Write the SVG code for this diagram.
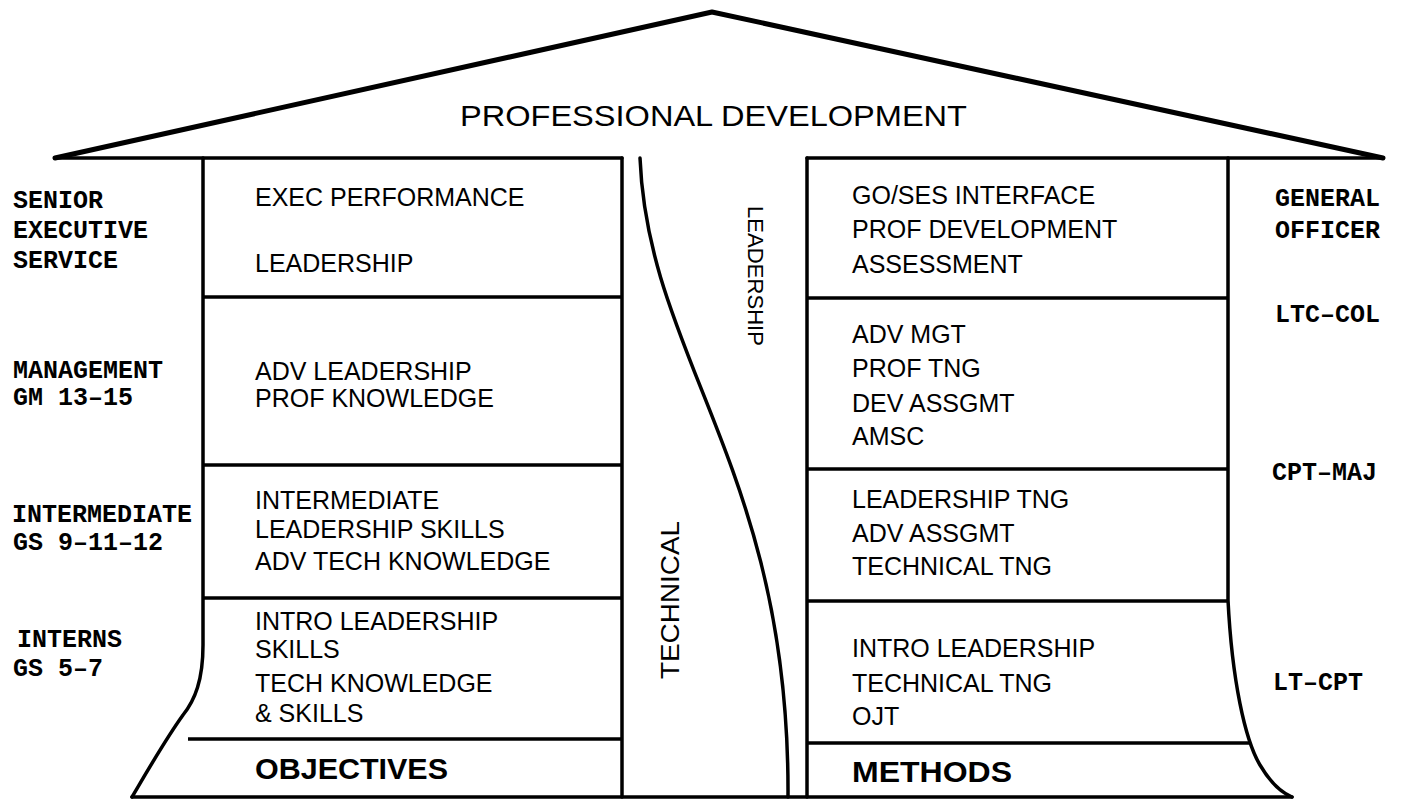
<svg xmlns="http://www.w3.org/2000/svg" width="1408" height="801" viewBox="0 0 1408 801">
<style>
.ln{stroke:#000;stroke-width:3.5;fill:none;stroke-linecap:round;stroke-linejoin:round}
.roof{stroke:#000;stroke-width:5;fill:none;stroke-linecap:round;stroke-linejoin:round}
.sep{stroke:#000;stroke-width:3.5;fill:none}
.tx{font-family:"Liberation Sans",Arial,sans-serif;font-size:25px;fill:#000}
.lb{font-family:"Liberation Mono","Courier New",monospace;font-weight:bold;font-size:25px;fill:#000}
.big{font-family:"Liberation Sans",Arial,sans-serif;font-weight:bold;font-size:29px;fill:#000}
.ttl{font-family:"Liberation Sans",Arial,sans-serif;font-size:30px;fill:#000}
</style>
<rect width="1408" height="801" fill="#fff"/>
<g id="frame">
<polyline class="roof" points="55,158 712,12 1383,158"/>
<line class="ln" x1="55" y1="158" x2="622" y2="158"/>
<line class="ln" x1="807" y1="158" x2="1383" y2="158"/>
<path class="ln" d="M203,158 L203,645 C203,680 195,700 183,715 C165,740 145,775 132,797"/>
<line class="ln" x1="622" y1="158" x2="622" y2="797"/>
<path class="ln" d="M640,158 C648,360 790,470 788,797"/>
<line class="ln" x1="807" y1="158" x2="807" y2="797"/>
<path class="ln" d="M1228,158 L1228,600 C1232,680 1245,740 1260,765 C1270,782 1280,792 1292,797"/>
<line class="ln" x1="132" y1="797" x2="1292" y2="797"/>
<line class="sep" x1="203" y1="297" x2="622" y2="297"/>
<line class="sep" x1="203" y1="465" x2="622" y2="465"/>
<line class="sep" x1="203" y1="598" x2="622" y2="598"/>
<line class="sep" x1="188" y1="739" x2="622" y2="739"/>
<line class="sep" x1="807" y1="298" x2="1228" y2="298"/>
<line class="sep" x1="807" y1="469" x2="1228" y2="469"/>
<line class="sep" x1="807" y1="601" x2="1229" y2="601"/>
<line class="sep" x1="807" y1="743" x2="1250" y2="743"/>
</g>
<g id="title"><text class="ttl" x="460" y="126" textLength="507" lengthAdjust="spacingAndGlyphs">PROFESSIONAL DEVELOPMENT</text></g>
<g id="lbl-ses"><text class="lb" x="13" y="208">SENIOR</text><text class="lb" x="13" y="238">EXECUTIVE</text><text class="lb" x="13" y="268">SERVICE</text></g>
<g id="lbl-mgmt"><text class="lb" x="13" y="378">MANAGEMENT</text><text class="lb" x="13" y="405">GM 13–15</text></g>
<g id="lbl-int"><text class="lb" x="12" y="522">INTERMEDIATE</text><text class="lb" x="13" y="550">GS 9–11–12</text></g>
<g id="lbl-interns"><text class="lb" x="17" y="647">INTERNS</text><text class="lb" x="13" y="676">GS 5–7</text></g>
<g id="obj-1"><text class="tx" x="255" y="206">EXEC PERFORMANCE</text><text class="tx" x="255" y="272">LEADERSHIP</text></g>
<g id="obj-2"><text class="tx" x="255" y="380">ADV LEADERSHIP</text><text class="tx" x="255" y="407">PROF KNOWLEDGE</text></g>
<g id="obj-3"><text class="tx" x="255" y="509">INTERMEDIATE</text><text class="tx" x="255" y="538">LEADERSHIP SKILLS</text><text class="tx" x="255" y="570">ADV TECH KNOWLEDGE</text></g>
<g id="obj-4"><text class="tx" x="255" y="630">INTRO LEADERSHIP</text><text class="tx" x="255" y="658">SKILLS</text><text class="tx" x="255" y="692">TECH KNOWLEDGE</text><text class="tx" x="255" y="722">&amp; SKILLS</text></g>
<g id="objectives"><text class="big" x="255" y="779" textLength="193" lengthAdjust="spacingAndGlyphs">OBJECTIVES</text></g>
<g id="technical"><text class="tx" style="font-size:26px" transform="translate(679,679) rotate(-90)" x="0" y="0" textLength="158" lengthAdjust="spacingAndGlyphs">TECHNICAL</text></g>
<g id="leadership"><text class="tx" style="font-size:22px" transform="translate(748,206) rotate(90)" x="0" y="0" textLength="140" lengthAdjust="spacingAndGlyphs">LEADERSHIP</text></g>
<g id="meth-1"><text class="tx" x="852" y="204">GO/SES INTERFACE</text><text class="tx" x="852" y="238">PROF DEVELOPMENT</text><text class="tx" x="852" y="273">ASSESSMENT</text></g>
<g id="meth-2"><text class="tx" x="852" y="343">ADV MGT</text><text class="tx" x="852" y="377">PROF TNG</text><text class="tx" x="852" y="412">DEV ASSGMT</text><text class="tx" x="852" y="445">AMSC</text></g>
<g id="meth-3"><text class="tx" x="852" y="508">LEADERSHIP TNG</text><text class="tx" x="852" y="542">ADV ASSGMT</text><text class="tx" x="852" y="575">TECHNICAL TNG</text></g>
<g id="meth-4"><text class="tx" x="852" y="657">INTRO LEADERSHIP</text><text class="tx" x="852" y="692">TECHNICAL TNG</text><text class="tx" x="852" y="725">OJT</text></g>
<g id="methods"><text class="big" x="852" y="782" textLength="160" lengthAdjust="spacingAndGlyphs">METHODS</text></g>
<g id="lbl-go"><text class="lb" x="1275" y="206">GENERAL</text><text class="lb" x="1275" y="238">OFFICER</text></g>
<g id="lbl-ltc"><text class="lb" x="1275" y="322">LTC–COL</text></g>
<g id="lbl-cpt"><text class="lb" x="1272" y="480">CPT–MAJ</text></g>
<g id="lbl-lt"><text class="lb" x="1273" y="690">LT–CPT</text></g>
</svg>
